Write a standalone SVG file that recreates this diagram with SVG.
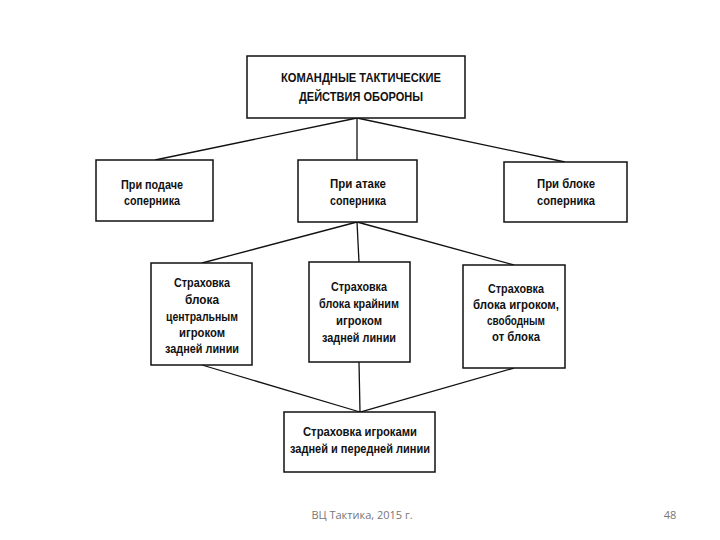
<svg xmlns="http://www.w3.org/2000/svg" width="720" height="540" viewBox="0 0 720 540">
<style>
.box{fill:#fff;stroke:#111;stroke-width:1.5}
.t{font-family:"Liberation Sans",Arial,sans-serif;font-size:13px;font-weight:bold;fill:#111;text-anchor:middle}
.c{stroke:#111;stroke-width:1.3;fill:none}
.f{font-family:"Open Sans","Liberation Sans",sans-serif;font-size:11px;fill:#777;text-anchor:middle}
</style>
<rect width="720" height="540" fill="#fff"/>
<g id="connectors">
<line class="c" x1="357" y1="118" x2="155" y2="160"/>
<line class="c" x1="357" y1="118" x2="357" y2="160"/>
<line class="c" x1="357" y1="118" x2="565" y2="162"/>
<line class="c" x1="357" y1="222" x2="202" y2="263"/>
<line class="c" x1="357" y1="222" x2="359" y2="262"/>
<line class="c" x1="357" y1="222" x2="514" y2="265"/>
<line class="c" x1="202" y1="365" x2="360" y2="412"/>
<line class="c" x1="359" y1="362" x2="360" y2="412"/>
<line class="c" x1="514" y1="368" x2="360" y2="412"/>
</g>
<g id="top">
<rect class="box" x="247" y="56" width="218" height="62"/>
<text class="t" x="361" y="82" textLength="160" lengthAdjust="spacingAndGlyphs">КОМАНДНЫЕ ТАКТИЧЕСКИЕ</text>
<text class="t" x="361" y="101" textLength="124" lengthAdjust="spacingAndGlyphs">ДЕЙСТВИЯ ОБОРОНЫ</text>
</g>
<g id="left1">
<rect class="box" x="96" y="160" width="117" height="61"/>
<text class="t" x="152" y="189" textLength="62" lengthAdjust="spacingAndGlyphs">При подаче</text>
<text class="t" x="152" y="205" textLength="56" lengthAdjust="spacingAndGlyphs">соперника</text>
</g>
<g id="mid1">
<rect class="box" x="298" y="160" width="119" height="62"/>
<text class="t" x="358" y="188" textLength="56" lengthAdjust="spacingAndGlyphs">При атаке</text>
<text class="t" x="358" y="205" textLength="56" lengthAdjust="spacingAndGlyphs">соперника</text>
</g>
<g id="right1">
<rect class="box" x="504" y="162" width="123" height="60"/>
<text class="t" x="566" y="188" textLength="58" lengthAdjust="spacingAndGlyphs">При блоке</text>
<text class="t" x="566" y="205" textLength="58" lengthAdjust="spacingAndGlyphs">соперника</text>
</g>
<g id="left2">
<rect class="box" x="151" y="263" width="101" height="102"/>
<text class="t" x="202" y="287" textLength="56" lengthAdjust="spacingAndGlyphs">Страховка</text>
<text class="t" x="202" y="304" textLength="34" lengthAdjust="spacingAndGlyphs">блока</text>
<text class="t" x="202" y="321" textLength="72" lengthAdjust="spacingAndGlyphs">центральным</text>
<text class="t" x="202" y="337" textLength="46" lengthAdjust="spacingAndGlyphs">игроком</text>
<text class="t" x="202" y="353" textLength="74" lengthAdjust="spacingAndGlyphs">задней линии</text>
</g>
<g id="mid2">
<rect class="box" x="309" y="262" width="101" height="100"/>
<text class="t" x="359" y="291" textLength="56" lengthAdjust="spacingAndGlyphs">Страховка</text>
<text class="t" x="359" y="308" textLength="80" lengthAdjust="spacingAndGlyphs">блока крайним</text>
<text class="t" x="359" y="325" textLength="46" lengthAdjust="spacingAndGlyphs">игроком</text>
<text class="t" x="359" y="342" textLength="74" lengthAdjust="spacingAndGlyphs">задней линии</text>
</g>
<g id="right2">
<rect class="box" x="463" y="265" width="102" height="103"/>
<text class="t" x="516" y="293" textLength="56" lengthAdjust="spacingAndGlyphs">Страховка</text>
<text class="t" x="516" y="309" textLength="86" lengthAdjust="spacingAndGlyphs">блока игроком,</text>
<text class="t" x="516" y="325" textLength="58" lengthAdjust="spacingAndGlyphs">свободным</text>
<text class="t" x="516" y="341" textLength="48" lengthAdjust="spacingAndGlyphs">от блока</text>
</g>
<g id="bottom">
<rect class="box" x="284" y="412" width="151" height="60"/>
<text class="t" x="360" y="436" textLength="114" lengthAdjust="spacingAndGlyphs">Страховка игроками</text>
<text class="t" x="360" y="453" textLength="140" lengthAdjust="spacingAndGlyphs">задней и передней линии</text>
</g>
<text class="f" x="362" y="519">ВЦ Тактика, 2015 г.</text>
<text class="f" x="670" y="519">48</text>
</svg>
